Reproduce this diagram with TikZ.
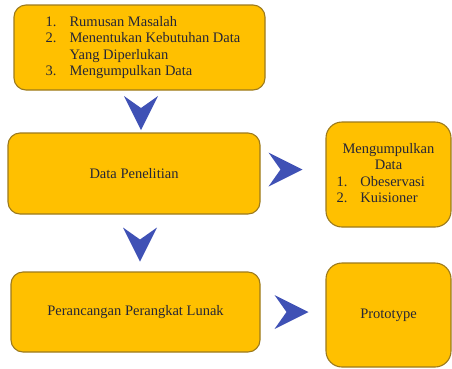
\documentclass[tikz,border=0pt]{standalone}
\usepackage{fontspec}
\setmainfont{Liberation Serif}
\usepackage{xcolor}
\usepackage{tikz}
\usetikzlibrary{calc}
\definecolor{boxfill}{HTML}{FFC000}
\definecolor{boxline}{HTML}{9C7A1C}
\definecolor{chevblue}{HTML}{3F51B5}
\definecolor{txt}{HTML}{262636}
\tikzstyle{b} = [rectangle, draw=boxline, fill=boxfill, line width=1.1pt, rounded corners=12pt, text=txt, align=center, inner sep=0pt, font=\fontsize{14.5}{16.5}\selectfont]
\tikzstyle{bs} = [b, rounded corners=16pt, minimum width=125pt]

\begin{document}
\begin{tikzpicture}[x=1pt,y=-1pt]
		\useasboundingbox (0,0) rectangle (452,368);
		\node[b, minimum width=251pt, minimum height=85pt] (b1) at (139.5,47.5) {\hspace*{7pt}\raisebox{4pt}{\begin{tabular}{@{}r@{\hspace{13pt}}l@{}}1. & Rumusan Masalah\\ 2. & Menentukan Kebutuhan Data\\ & Yang Diperlukan\\ 3. & Mengumpulkan Data\end{tabular}}};
		\node[b, minimum width=252pt, minimum height=81pt] (b2) at (134,173.5) {Data Penelitian};
		\node[bs, minimum height=105pt] (b3) at (388.5,174.5) {\begin{tabular}{@{}r@{\hspace{13pt}}l@{}}\multicolumn{2}{c}{Mengumpulkan}\\ \multicolumn{2}{c}{Data}\\ 1. & Obeservasi\\ 2. & Kuisioner\end{tabular}};
		\node[b, minimum width=249pt, minimum height=80pt] (b4) at (135.5,312) {Perancangan Perangkat Lunak};
		\node[bs, minimum height=104pt] (b5) at (388.5,315) {Prototype};
	%	chevrons between the boxes
		\coordinate (d1) at (141,113);
		\coordinate (d2) at (140,244.5);
		\coordinate (r1) at (285.5,169.5);
		\coordinate (r2) at (291.5,312);
		\foreach \c/\r in {d1/0,d2/0,r1/90,r2/90}
		\fill[chevblue, shift={(\c)}, rotate=\r] (-17,-17) -- (0,-5) -- (17,-17) -- (0,17) -- cycle;
	\end{tikzpicture}
\end{document}
